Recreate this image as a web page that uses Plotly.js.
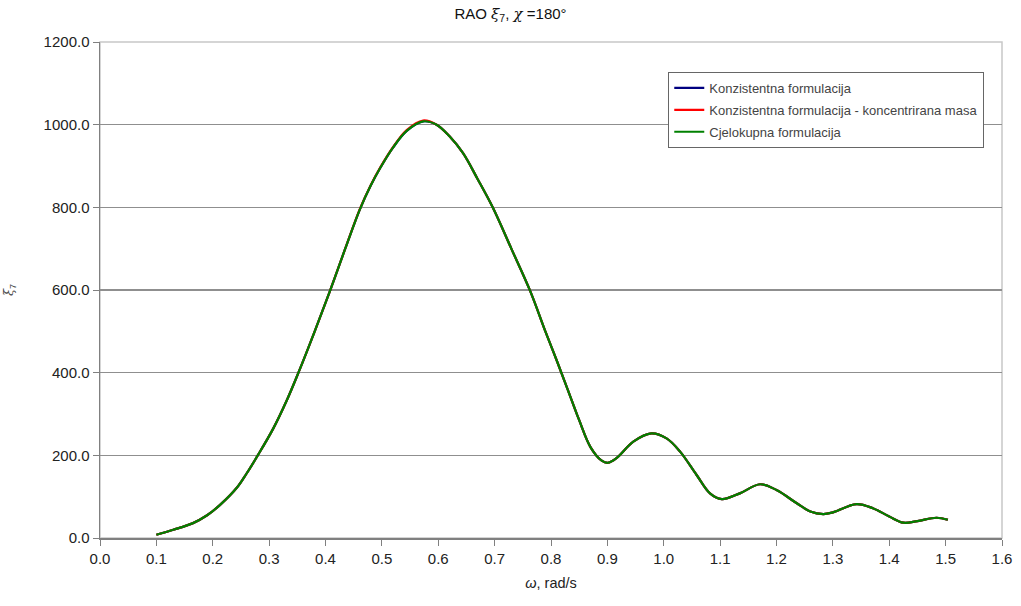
<!DOCTYPE html>
<html>
<head>
<meta charset="utf-8">
<script src="https://cdn.plot.ly/plotly-3.0.1.min.js"></script>
<style>html,body{margin:0;padding:0;background:#fff}#chart{width:1021px;height:606px}</style>
</head>
<body>
<div id="chart"></div>
<script>
// omega, rad/s
const omega = [0.10, 0.13, 0.165, 0.19, 0.213, 0.243, 0.26, 0.279, 0.307, 0.331, 0.352, 0.38, 0.408, 0.435, 0.461, 0.48, 0.497, 0.52, 0.544, 0.573, 0.597, 0.62, 0.644, 0.67, 0.697, 0.73, 0.763, 0.79, 0.81, 0.83, 0.85, 0.87, 0.89, 0.901, 0.916, 0.946, 0.978, 1.005, 1.029, 1.058, 1.082, 1.103, 1.135, 1.171, 1.2, 1.236, 1.26, 1.283, 1.30, 1.342, 1.371, 1.40, 1.425, 1.45, 1.484, 1.504];
// Konzistentna formulacija
const konzistentna = [8, 20, 36, 55, 80, 122, 156, 198, 264, 332, 400, 497, 598, 700, 795, 852, 895, 945, 985, 1008, 1000, 972, 931, 868, 799, 699, 598, 500, 430, 358, 285, 220, 187, 182, 193, 233, 253, 241, 209, 153, 108, 94, 108, 130, 116, 84, 64, 58, 62, 82, 72, 52, 37, 41, 49, 44];
// Konzistentna formulacija - koncentrirana masa
const koncentrirana = [8, 20, 36, 55, 80, 122, 156, 198, 264, 332, 400, 497, 598, 700, 796, 853, 896, 946, 987, 1010, 1000, 972, 931, 868, 799, 699, 598, 500, 430, 358, 285, 220, 187, 182, 193, 233, 253, 241, 209, 153, 108, 94, 108, 130, 116, 84, 64, 58, 62, 82, 72, 52, 37, 41, 49, 44];
// Cjelokupna formulacija
const cjelokupna = [8, 20, 36, 55, 80, 122, 156, 198, 264, 332, 400, 497, 598, 700, 795, 852, 895, 945, 985, 1008, 1000, 972, 931, 868, 799, 699, 598, 500, 430, 358, 285, 220, 187, 182, 193, 233, 253, 241, 209, 153, 108, 94, 108, 130, 116, 84, 64, 58, 62, 82, 72, 52, 37, 41, 49, 44];

const seriesNames = ['Konzistentna formulacija', 'Konzistentna formulacija - koncentrirana masa', 'Cjelokupna formulacija'];
const seriesValues = [konzistentna, koncentrirana, cjelokupna];
const seriesColors = ['#000080', '#ff0000', '#008000'];

const traces = seriesValues.map((v, i) => ({
  x: omega, y: v, type: 'scatter', mode: 'lines', name: seriesNames[i],
  legendgroup: 'g' + i,
  line: {color: seriesColors[i], width: 2.2, shape: 'spline', smoothing: 1}
}));

const sans = 'Liberation Sans, Arial, sans-serif';
const greek = 'font-family:DejaVu Serif, Liberation Serif, serif';

const layout = {
  width: 1021, height: 606,
  margin: {l: 100, r: 19, t: 42, b: 68},
  paper_bgcolor: '#fff', plot_bgcolor: '#fff',
  font: {family: sans, color: '#222', size: 13},
  showlegend: true,
  title: {text: 'RAO <span style="' + greek + '"><i>ξ</i></span><sub>7</sub>, <span style="' + greek + '"><i>χ</i></span> =180°', x: 0.5, xref: 'container', xanchor: 'center', y: 0.978, yanchor: 'middle', font: {family: sans, size: 15, color: '#111'}},
  xaxis: {
    range: [0, 1.6], dtick: 0.1, tick0: 0, tickformat: '.1f',
    showgrid: false, zeroline: false,
    showline: true, linecolor: '#808080', linewidth: 1.5,
    ticks: 'outside', ticklen: 6, tickcolor: '#808080', tickwidth: 1,
    tickfont: {family: sans, size: 15, color: '#222'},
    title: {text: '<i>ω</i>, rad/s', font: {family: sans, size: 14.5, color: '#222'}, standoff: 12}
  },
  yaxis: {
    range: [0, 1200], dtick: 200, tick0: 0, tickformat: '.1f',
    showgrid: true, gridcolor: '#8f8f8f', gridwidth: 1.5, zeroline: false,
    showline: true, linecolor: '#808080', linewidth: 1.5,
    ticks: 'outside', ticklen: 6, tickcolor: '#808080', tickwidth: 1,
    tickfont: {family: sans, size: 15, color: '#222'},
    title: {text: '<span style="' + greek + '"><i>ξ</i></span><sub>7</sub>', font: {size: 13, color: '#444'}, standoff: 27}
  },
  legend: {
    x: 0.630, y: 0.9395, xanchor: 'left', yanchor: 'top',
    bgcolor: '#fff', bordercolor: '#666', borderwidth: 1,
    font: {family: sans, size: 13, color: '#444'},
    itemwidth: 30, tracegroupgap: 2, traceorder: 'grouped'
  },
  shapes: [{type: 'rect', xref: 'paper', yref: 'paper', x0: 0, x1: 1, y0: 0, y1: 1, line: {color: '#c8c8c8', width: 1.5}, layer: 'below'}]
};

Plotly.newPlot('chart', traces, layout, {displayModeBar: false, staticPlot: true});
</script>
</body>
</html>
